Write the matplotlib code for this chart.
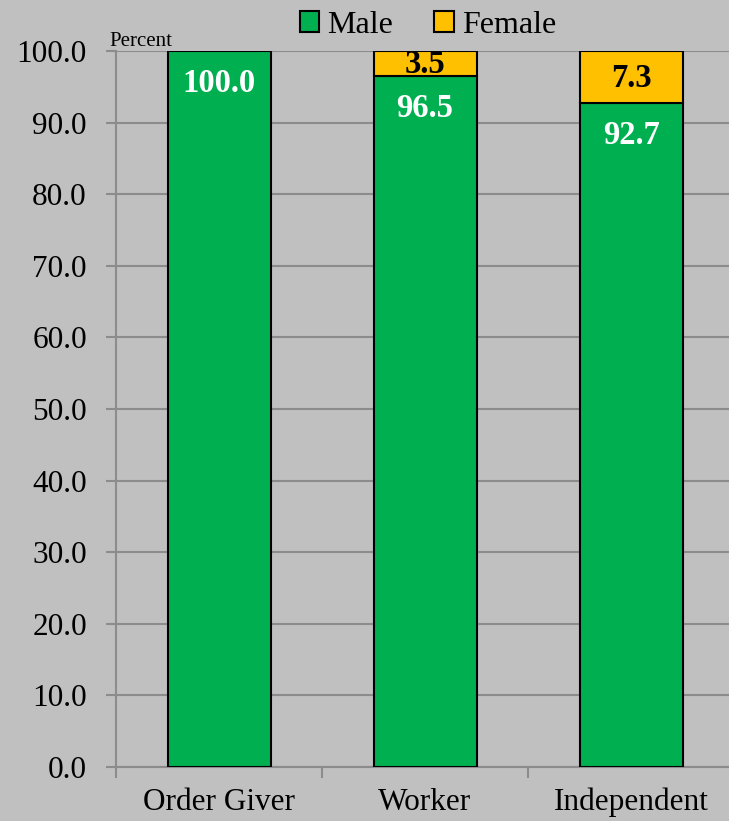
import matplotlib
matplotlib.use("Agg")
import matplotlib.pyplot as plt
from matplotlib.patches import Patch
import numpy as np

categories = ["Order Giver", "Worker", "Independent"]
male = [100.0, 96.5, 92.7]
female = [0.0, 3.5, 7.3]
yticks = [0, 10, 20, 30, 40, 50, 60, 70, 80, 90, 100]

plt.rcParams['font.family'] = ['Liberation Serif', 'DejaVu Serif']

BG = "#c0c0c0"
GREEN = "#00b050"
YELLOW = "#ffc000"
GRID = "#8c8c8c"

fig = plt.figure(figsize=(7.29, 8.21), dpi=100, facecolor=BG)
ax = fig.add_axes([116/729, 54/821, 618/729, 716/821], facecolor=BG)

x = np.arange(len(categories))
bm = ax.bar(x, male, width=0.5, color=GREEN, edgecolor="black", linewidth=1.5, zorder=3)
bf = ax.bar(x, female, width=0.5, bottom=male, color=YELLOW, edgecolor="black", linewidth=1.5, zorder=3)
for r, v in zip(bf, female):
    if v == 0:
        r.set_visible(False)

for xi, m, f in zip(x, male, female):
    ax.text(xi, m - 4.5, f"{m:.1f}", ha="center", va="center", color="white",
            fontsize=23.5, fontweight="bold", zorder=4)
    if f > 0:
        ax.text(xi, m + f / 2 - 0.2, f"{f:.1f}", ha="center", va="center", color="black",
                fontsize=23.5, fontweight="bold", zorder=4)

ax.set_xlim(-0.5, 2.5)
ax.set_ylim(0, 100)
ax.set_yticks(yticks)
ax.set_yticklabels([f"{v:.1f}" for v in yticks], fontsize=22.5)
ax.yaxis.grid(True, color=GRID, linewidth=1.5, zorder=0)
ax.set_axisbelow(True)

ax.set_xticks(x)
ax.set_xticklabels(categories, fontsize=22.5)
ax.set_xticks([-0.5, 0.5, 1.5, 2.5], minor=True)
ax.tick_params(axis="x", which="major", length=0, pad=15)
ax.tick_params(axis="x", which="minor", length=8, width=1.5, color=GRID, direction="out")
ax.tick_params(axis="y", which="major", length=7, width=1.5, color=GRID, direction="out", pad=14)

for s in ["top", "right"]:
    ax.spines[s].set_visible(False)
for s in ["left", "bottom"]:
    ax.spines[s].set_color(GRID)
    ax.spines[s].set_linewidth(1.5)

ax.text(-0.01, 1.0, "Percent", transform=ax.transAxes, ha="left", va="bottom", fontsize=15)

handles = [Patch(facecolor=GREEN, edgecolor="black", linewidth=1.5),
           Patch(facecolor=YELLOW, edgecolor="black", linewidth=1.5)]
fig.legend(handles=handles, labels=["Male", "Female"], loc="upper center",
           bbox_to_anchor=(0.587, 1.022), ncol=2, frameon=False, fontsize=23,
           handlelength=0.6, handleheight=0.6, handletextpad=0.25, columnspacing=1.3)

fig.savefig("out.png", dpi=100, facecolor=BG)
